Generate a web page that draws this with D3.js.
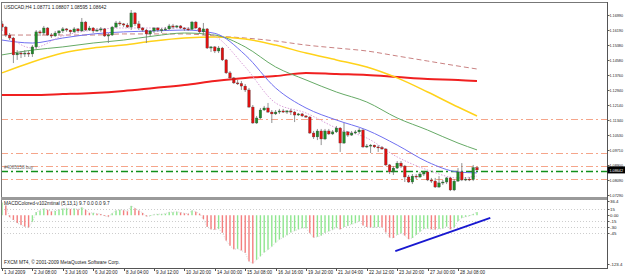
<!DOCTYPE html>
<html>
<head>
<meta charset="utf-8">
<script src="https://cdnjs.cloudflare.com/ajax/libs/d3/7.8.5/d3.min.js"></script>
<style>
  body { margin: 0; background: #fff; }
  svg { display: block; }
  text { font-family: "Liberation Sans", Arial, sans-serif; }
</style>
</head>
<body>
<svg id="chart" width="625" height="275"></svg>
<script>
// USDCAD H4, 1 Jul - 28 Jul 2009, [open, high, low, close]
const candles = [
  [1.1651,1.1667,1.1618,1.1634],[1.1634,1.1640,1.1581,1.1591],[1.1591,1.1602,1.1564,1.1575],[1.1575,1.1581,1.1440,1.1484],
  [1.1484,1.1510,1.1457,1.1494],[1.1494,1.1505,1.1467,1.1489],[1.1489,1.1510,1.1473,1.1494],[1.1494,1.1505,1.1473,1.1489],
  [1.1489,1.1537,1.1473,1.1527],[1.1527,1.1618,1.1516,1.1608],[1.1608,1.1618,1.1586,1.1602],[1.1602,1.1640,1.1591,1.1629],
  [1.1629,1.1634,1.1586,1.1591],[1.1591,1.1602,1.1575,1.1586],[1.1586,1.1613,1.1581,1.1602],[1.1602,1.1618,1.1591,1.1613],
  [1.1613,1.1634,1.1602,1.1624],[1.1624,1.1629,1.1608,1.1618],[1.1618,1.1620,1.1597,1.1608],[1.1608,1.1634,1.1602,1.1624],
  [1.1624,1.1629,1.1608,1.1613],[1.1613,1.1683,1.1608,1.1661],[1.1661,1.1667,1.1613,1.1618],[1.1618,1.1640,1.1613,1.1629],
  [1.1629,1.1634,1.1602,1.1613],[1.1613,1.1629,1.1608,1.1618],[1.1618,1.1634,1.1608,1.1624],[1.1624,1.1629,1.1581,1.1586],
  [1.1586,1.1602,1.1548,1.1591],[1.1591,1.1640,1.1586,1.1634],[1.1634,1.1667,1.1629,1.1656],[1.1656,1.1667,1.1640,1.1651],
  [1.1651,1.1656,1.1634,1.1645],[1.1645,1.1656,1.1629,1.1634],[1.1634,1.1726,1.1618,1.1710],[1.1710,1.1715,1.1640,1.1651],
  [1.1651,1.1667,1.1618,1.1629],[1.1629,1.1634,1.1608,1.1618],[1.1618,1.1624,1.1548,1.1597],[1.1597,1.1618,1.1586,1.1613],
  [1.1613,1.1634,1.1602,1.1629],[1.1629,1.1634,1.1608,1.1618],[1.1618,1.1629,1.1602,1.1620],[1.1620,1.1634,1.1613,1.1624],
  [1.1624,1.1651,1.1618,1.1640],[1.1640,1.1651,1.1624,1.1634],[1.1634,1.1645,1.1629,1.1640],[1.1640,1.1645,1.1624,1.1629],
  [1.1629,1.1634,1.1613,1.1624],[1.1624,1.1634,1.1613,1.1622],[1.1622,1.1667,1.1618,1.1661],[1.1661,1.1667,1.1624,1.1629],
  [1.1629,1.1634,1.1597,1.1608],[1.1608,1.1656,1.1591,1.1624],[1.1624,1.1629,1.1516,1.1521],[1.1521,1.1532,1.1500,1.1527],
  [1.1527,1.1532,1.1494,1.1505],[1.1505,1.1532,1.1494,1.1521],[1.1521,1.1527,1.1451,1.1457],[1.1457,1.1462,1.1381,1.1387],
  [1.1387,1.1397,1.1354,1.1360],[1.1360,1.1365,1.1327,1.1333],[1.1333,1.1349,1.1322,1.1330],[1.1330,1.1343,1.1295,1.1316],
  [1.1316,1.1327,1.1284,1.1295],[1.1295,1.1306,1.1198,1.1203],[1.1203,1.1214,1.1112,1.1117],[1.1117,1.1155,1.1112,1.1144],
  [1.1144,1.1198,1.1139,1.1187],[1.1187,1.1209,1.1182,1.1198],[1.1198,1.1225,1.1171,1.1176],[1.1176,1.1187,1.1117,1.1166],
  [1.1166,1.1187,1.1160,1.1176],[1.1176,1.1193,1.1166,1.1182],[1.1182,1.1193,1.1171,1.1176],[1.1176,1.1187,1.1166,1.1182],
  [1.1182,1.1193,1.1160,1.1176],[1.1176,1.1182,1.1122,1.1160],[1.1160,1.1171,1.1155,1.1166],[1.1166,1.1171,1.1149,1.1155],
  [1.1155,1.1160,1.1144,1.1149],[1.1149,1.1155,1.1058,1.1063],[1.1063,1.1074,1.1031,1.1042],[1.1042,1.1085,1.1025,1.1074],
  [1.1074,1.1085,1.0998,1.1031],[1.1031,1.1085,1.1025,1.1074],[1.1074,1.1085,1.1052,1.1058],[1.1058,1.1079,1.1052,1.1069],
  [1.1069,1.1101,1.1063,1.1090],[1.1090,1.1095,1.0961,1.1009],[1.1009,1.1117,1.1004,1.1069],[1.1069,1.1074,1.1042,1.1052],
  [1.1052,1.1074,1.1047,1.1063],[1.1063,1.1079,1.1058,1.1069],[1.1069,1.1090,1.1058,1.1079],[1.1079,1.1085,1.0982,1.0988],
  [1.0988,1.1004,1.0982,1.0993],[1.0993,1.1004,1.0955,1.0998],[1.0998,1.1000,1.0982,1.0988],[1.0988,1.0998,1.0961,1.0985],
  [1.0985,1.0993,1.0972,1.0977],[1.0977,1.0982,1.0885,1.0891],[1.0891,1.0896,1.0842,1.0853],[1.0853,1.0885,1.0837,1.0874],
  [1.0874,1.0912,1.0869,1.0901],[1.0901,1.0912,1.0874,1.0885],[1.0885,1.0891,1.0799,1.0826],[1.0826,1.0837,1.0794,1.0799],
  [1.0799,1.0842,1.0788,1.0831],[1.0831,1.0842,1.0815,1.0826],[1.0826,1.0853,1.0821,1.0842],[1.0842,1.0858,1.0831,1.0853],
  [1.0853,1.0858,1.0804,1.0810],[1.0810,1.0821,1.0794,1.0804],[1.0804,1.0821,1.0767,1.0772],[1.0772,1.0831,1.0767,1.0794],
  [1.0794,1.0810,1.0783,1.0799],[1.0799,1.0826,1.0788,1.0821],[1.0821,1.0826,1.0750,1.0756],[1.0756,1.0815,1.0750,1.0804],
  [1.0804,1.0874,1.0799,1.0853],[1.0853,1.0901,1.0804,1.0810],[1.0810,1.0826,1.0804,1.0815],[1.0815,1.0826,1.0804,1.0812],
  [1.0812,1.0891,1.0804,1.0877],[1.0877,1.0881,1.0860,1.0864]
];

// moving averages, read every 8 bars (last point = last bar)
const maIdx = [0, 8, 16, 24, 32, 40, 48, 56, 64, 72, 80, 88, 96, 104, 112, 120, 125];
const maBlue   = [1.1564,1.1548,1.1575,1.1597,1.1608,1.1613,1.1618,1.1600,1.1484,1.1306,1.1198,1.1133,1.1079,1.0998,1.0907,1.0853,1.0848];
const maPink   = [1.1618,1.1521,1.1586,1.1618,1.1629,1.1629,1.1629,1.1586,1.1419,1.1225,1.1171,1.1090,1.1036,1.0934,1.0864,1.0821,1.0831];
const maGreen  = [1.1484,1.1510,1.1527,1.1548,1.1564,1.1586,1.1602,1.1591,1.1527,1.1419,1.1349,1.1284,1.1230,1.1144,1.1079,1.1009,1.0972];
const maYellow = [1.1387,1.1446,1.1494,1.1521,1.1537,1.1559,1.1575,1.1581,1.1570,1.1537,1.1494,1.1457,1.1419,1.1360,1.1284,1.1203,1.1155];
const maRed    = [1.1268,1.1268,1.1273,1.1279,1.1290,1.1306,1.1322,1.1343,1.1360,1.1370,1.1387,1.1381,1.1376,1.1365,1.1354,1.1349,1.1343];
const maDashed = [1.1591,1.1591,1.1591,1.1591,1.1597,1.1597,1.1597,1.1586,1.1575,1.1559,1.1537,1.1521,1.1505,1.1478,1.1451,1.1424,1.1408];

const salmonLevels = [1.1136, 1.0957, 1.0885, 1.0813];
const orderLevel = 1.0861;
const orderLabel = "#4085158 buy";
const lastPrice = 1.08642;

const priceTicks = [1.16990,1.16190,1.15380,1.14580,1.13760,1.12940,1.12140,1.11340,1.10530,1.09710,1.08900,1.08090,1.07290];

const macd = [
  32,25,-5,-12,-20,-25,-29,-31,-17,8,
  12,17,14,10,11,14,17,18,16,17,
  15,20,14,6,6,4,3,-2,-4,5,
  12,14,13,10,24,18,12,6,-3,-2,
  2,3,3,4,8,8,9,7,5,4,
  12,9,4,-10,-30,-36,-37,-35,-45,-65,
  -78,-87,-86,-90,-96,-118,-123.4,-114,-105,-95,
  -88,-80,-70,-62,-57,-51,-44,-40,-36,-33,
  -33,-46,-57,-55,-52,-45,-41,-37,-32,-36,
  -30,-27,-23,-20,-15,-26,-30,-31,-31,-30,
  -31,-44,-57,-58,-50,-46,-52,-61,-58,-50,
  -42,-35,-34,-36,-37,-35,-34,-29,-36,-31,
  -15,-7,-4,-2,3,8
];
const macdLevels = [15, -15, -30, -45];
const macdLabels = [["36.4", 36.4], ["15", 15], ["0.00", 0], ["-15", -15], ["-30", -30], ["-45", -45], ["-123.4", -123.4]];
const trendLine = [[103.5, -92], [128.5, -7]];

const timeLabels = ["1 Jul 2009","2 Jul 08:00","3 Jul 16:00","6 Jul 20:00","8 Jul 04:00","9 Jul 12:00","10 Jul 20:00",
  "14 Jul 00:00","15 Jul 08:00","16 Jul 16:00","19 Jul 20:00","21 Jul 04:00","22 Jul 12:00","23 Jul 20:00",
  "27 Jul 00:00","28 Jul 08:00"];

const header = "USDCAD,H4  1.08771 1.08807 1.08595 1.08642";
const macdTitle = "MACDColored-v102mtinal (5,13,1) 9.7 0.0 0.0 9.7";
const copyright = "FXCM MT4, \u00a9 2001-2009 MetaQuotes Software Corp.";

// layout
const axisX = 607.5, mainTop = 3, mainBot = 197, indTop = 200, indBot = 268;

const svg = d3.select('#chart');
const x = d3.scaleLinear().domain([0, 125]).range([2, 477]);
const y = d3.scaleLinear().domain([1.0729, 1.1699]).range([195, 15]);
const yi = d3.scaleLinear().domain([-123.4, 36.4]).range([263.5, 201]);

svg.append('rect').attr('width', 625).attr('height', 275).attr('fill', '#fff');

const defs = svg.append('defs');
defs.append('clipPath').attr('id', 'mainClip').append('rect')
  .attr('x', 1).attr('y', mainTop).attr('width', axisX - 1).attr('height', mainBot - mainTop);
defs.append('clipPath').attr('id', 'indClip').append('rect')
  .attr('x', 1).attr('y', indTop).attr('width', axisX - 1).attr('height', indBot - indTop);

const main = svg.append('g').attr('clip-path', 'url(#mainClip)');

// horizontal order levels
main.selectAll('.lvl').data(salmonLevels).enter().append('line')
  .attr('x1', 1).attr('x2', axisX)
  .attr('y1', d => Math.round(y(d)) + 0.5).attr('y2', d => Math.round(y(d)) + 0.5)
  .attr('stroke', '#f5a58a').attr('stroke-width', 1).attr('stroke-dasharray', '7,3,2,3');
main.append('line')
  .attr('x1', 1).attr('x2', axisX)
  .attr('y1', Math.round(y(orderLevel)) + 0.5).attr('y2', Math.round(y(orderLevel)) + 0.5)
  .attr('stroke', '#10901a').attr('stroke-width', 1.6).attr('stroke-dasharray', '7,3,2,3');
main.append('text').attr('x', 4).attr('y', y(orderLevel) - 2)
  .attr('font-size', 4.6).attr('fill', '#666').text(orderLabel);

// moving averages
const maLine = d3.line().x(d => x(d[0])).y(d => y(d[1])).curve(d3.curveMonotoneX);
const mas = [
  { v: maRed, color: '#f02020', w: 2 },
  { v: maDashed, color: '#c98282', w: 1, dash: '5,3' },
  { v: maYellow, color: '#ffd21a', w: 1.5 },
  { v: maGreen, color: '#66aa66', w: 1 },
  { v: maBlue, color: '#7070f0', w: 1 },
  { v: maPink, color: '#d9a0d9', w: 1, dash: '1.5,1.5' }
];
mas.forEach(m => {
  main.append('path')
    .datum(maIdx.map((i, k) => [i, m.v[k]]))
    .attr('d', maLine)
    .attr('fill', 'none')
    .attr('stroke', m.color)
    .attr('stroke-width', m.w)
    .attr('stroke-dasharray', m.dash || null);
});

// candles
const cg = main.selectAll('.candle').data(candles).enter().append('g').attr('class', 'candle');
cg.append('line')
  .attr('x1', (d, i) => x(i)).attr('x2', (d, i) => x(i))
  .attr('y1', d => y(d[1])).attr('y2', d => y(d[2]))
  .attr('stroke', '#777').attr('stroke-width', 0.8);
cg.append('rect')
  .attr('x', (d, i) => x(i) - 1.3)
  .attr('width', 2.6)
  .attr('y', d => y(Math.max(d[0], d[3])))
  .attr('height', d => Math.max(1, Math.abs(y(d[0]) - y(d[3]))))
  .attr('fill', d => d[3] >= d[0] ? '#1e8a28' : '#e01010')
  .attr('stroke', '#444').attr('stroke-width', 0.3);

// indicator window
const ind = svg.append('g').attr('clip-path', 'url(#indClip)');
ind.selectAll('.mlvl').data(macdLevels).enter().append('line')
  .attr('x1', 1).attr('x2', axisX)
  .attr('y1', d => Math.round(yi(d)) + 0.5).attr('y2', d => Math.round(yi(d)) + 0.5)
  .attr('stroke', '#c0c0c0').attr('stroke-width', 0.8).attr('stroke-dasharray', '1,2');
ind.selectAll('.hb').data(macd).enter().append('rect')
  .attr('x', (d, i) => x(i) - 0.7)
  .attr('width', 1.4)
  .attr('y', d => Math.min(yi(0), yi(d)))
  .attr('height', d => Math.abs(yi(d) - yi(0)))
  .attr('fill', (d, i) => (i === 0 || d >= macd[i - 1]) ? '#8fe68f' : '#f37f7f');
ind.append('path')
  .datum(macd)
  .attr('d', d3.line().x((d, i) => x(i)).y(d => yi(d)))
  .attr('fill', 'none').attr('stroke', '#c8c8c8').attr('stroke-width', 0.8).attr('stroke-dasharray', '1,1.5');
ind.append('line')
  .attr('x1', x(trendLine[0][0])).attr('y1', yi(trendLine[0][1]))
  .attr('x2', x(trendLine[1][0])).attr('y2', yi(trendLine[1][1]))
  .attr('stroke', '#1818d0').attr('stroke-width', 1.8);

// frame
svg.append('line').attr('x1', 1).attr('x2', axisX).attr('y1', mainTop - 0.5).attr('y2', mainTop - 0.5).attr('stroke', '#777');
svg.append('line').attr('x1', 1.5).attr('x2', 1.5).attr('y1', mainTop).attr('y2', indBot).attr('stroke', '#777');
svg.append('rect').attr('x', 1).attr('y', mainBot).attr('width', axisX - 1).attr('height', 3).attr('fill', '#9a9a9a');
svg.append('line').attr('x1', 1).attr('x2', axisX).attr('y1', indBot + 0.5).attr('y2', indBot + 0.5).attr('stroke', '#555');
svg.append('line').attr('x1', axisX).attr('x2', axisX).attr('y1', mainTop - 1).attr('y2', indBot + 1).attr('stroke', '#555');

// price axis (labels squeezed into the narrow margin)
const pa = svg.append('g').attr('font-size', 4.4).attr('fill', '#222');
priceTicks.forEach(p => {
  const yy = Math.round(y(p)) + 0.5;
  pa.append('line').attr('x1', axisX).attr('x2', axisX + 2).attr('y1', yy).attr('y2', yy).attr('stroke', '#555');
  pa.append('text').attr('x', 609.5).attr('y', yy + 1.6)
    .attr('textLength', 13.5).attr('lengthAdjust', 'spacingAndGlyphs').text(p.toFixed(5));
});
const lpY = y(lastPrice);
svg.append('rect').attr('x', axisX).attr('y', lpY - 3.5).attr('width', 625 - axisX).attr('height', 7).attr('fill', '#000');
svg.append('text').attr('x', 609.5).attr('y', lpY + 1.6).attr('font-size', 4.4).attr('fill', '#fff')
  .attr('textLength', 13.5).attr('lengthAdjust', 'spacingAndGlyphs').text(lastPrice.toFixed(5));

// indicator axis
macdLabels.forEach(([t, v]) => {
  const yy = Math.round(yi(v)) + 0.5;
  pa.append('line').attr('x1', axisX).attr('x2', axisX + 2).attr('y1', yy).attr('y2', yy).attr('stroke', '#555');
  pa.append('text').attr('x', 610).attr('y', yy + 1.6).text(t);
});

// time axis
const ta = svg.append('g').attr('font-size', 4.6).attr('fill', '#222');
timeLabels.forEach((t, k) => {
  const xx = Math.round(x(k * 8)) + 0.5;
  ta.append('line').attr('x1', xx).attr('x2', xx).attr('y1', indBot).attr('y2', indBot + 3).attr('stroke', '#555');
  ta.append('text').attr('x', xx + 1.5).attr('y', 273.5).text(t);
});

// texts
svg.append('text').attr('x', 4).attr('y', 8.5).attr('font-size', 4.8).attr('fill', '#222').text(header);
svg.append('text').attr('x', 4).attr('y', 205).attr('font-size', 4.8).attr('fill', '#222').text(macdTitle);
svg.append('text').attr('x', 4).attr('y', 264).attr('font-size', 4.8).attr('fill', '#222').text(copyright);
</script>
</body>
</html>
